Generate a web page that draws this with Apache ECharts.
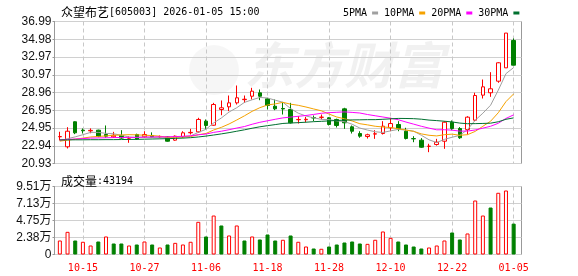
<!DOCTYPE html>
<html><head><meta charset="utf-8">
<script src="https://cdn.jsdelivr.net/npm/echarts@6/dist/echarts.min.js"></script>
<style>html,body{margin:0;padding:0;background:#fff}#c{width:578px;height:276px}</style>
</head><body><div id="c"></div>
<script>
const dates = ['10-10','10-13','10-14','10-15','10-16','10-17','10-20','10-21','10-22','10-23','10-24','10-27','10-28','10-29','10-30','10-31',
'11-03','11-04','11-05','11-06','11-07','11-10','11-11','11-12','11-13','11-14','11-17','11-18','11-19','11-20','11-21','11-24','11-25','11-26','11-27','11-28',
'12-01','12-02','12-03','12-04','12-05','12-08','12-09','12-10','12-11','12-12','12-15','12-16','12-17','12-18','12-19','12-22','12-23','12-24','12-25','12-26','12-29','12-30','12-31','01-05'];
// [open, close, low, high]
const candles = [
[23.95,23.98,23.53,24.52],[22.82,24.58,22.63,25.04],[25.65,24.40,24.25,25.70],[24.70,24.63,24.32,24.89],[24.62,24.68,24.35,24.90],
[24.70,23.98,23.90,24.75],[24.21,24.02,23.84,25.23],[23.95,24.13,23.84,24.51],[24.10,23.80,23.72,24.70],[23.70,23.72,23.27,24.02],
[24.21,23.70,23.60,24.30],[23.95,24.21,23.84,24.58],[24.10,23.95,23.84,24.45],[23.93,23.97,23.80,24.10],[23.95,23.45,23.40,24.00],
[23.57,24.02,23.50,24.10],[23.95,24.40,23.84,24.58],[24.40,24.45,24.21,24.85],[24.51,25.91,24.40,26.10],[25.72,25.23,24.85,25.91],
[25.26,27.60,25.20,27.79],[27.04,27.23,26.39,28.06],[27.34,27.79,26.85,28.62],[27.79,28.36,27.60,29.75],[28.15,28.20,27.79,28.62],
[28.54,29.11,28.17,29.49],[28.92,28.54,28.09,29.30],[28.24,27.49,27.04,28.36],[27.41,27.11,26.96,28.17],[27.15,27.10,26.47,27.86],
[27.04,25.53,25.45,27.79],[25.88,25.91,25.45,26.28],[25.88,25.93,25.60,26.20],[26.12,26.08,25.72,26.36],[26.15,26.17,25.91,26.47],
[26.10,25.34,25.23,26.17],[25.91,25.23,25.00,26.00],[27.11,25.53,24.85,27.23],[25.08,24.58,24.32,25.23],[24.32,24.02,23.84,24.58],
[23.98,24.18,23.75,24.30],[24.26,24.29,23.72,24.70],[24.32,25.15,24.21,25.72],[24.97,25.45,24.58,26.10],[25.34,24.89,24.58,25.72],
[24.58,23.76,23.65,24.97],[23.75,23.72,23.34,24.02],[23.57,22.77,22.70,23.80],[22.87,22.89,22.21,23.16],[23.08,23.34,22.95,23.72],
[23.45,25.60,22.59,25.72],[25.60,24.89,24.70,25.80],[24.89,23.84,23.72,25.05],[24.78,26.17,24.21,26.28],[25.83,28.62,25.72,28.93],
[28.66,29.60,28.28,30.43],[28.93,29.38,28.47,31.26],[30.24,32.32,30.06,32.39],[31.75,35.68,31.75,35.68],[34.84,32.05,32.05,35.07]];
const ma5 = [23.50,23.74,23.94,24.19,24.45,24.45,24.34,24.29,24.12,23.93,23.88,23.92,23.88,23.91,23.86,23.92,23.95,24.05,24.45,24.80,
25.52,26.08,26.75,27.24,27.84,28.14,28.40,28.34,28.09,27.86,27.14,26.62,26.30,26.10,25.92,25.89,25.75,25.67,25.37,24.94,
24.71,24.52,24.44,24.62,24.79,24.71,24.59,24.12,23.61,23.30,23.66,23.90,24.11,24.77,25.82,26.62,27.52,29.22,31.09,31.78];
const ma10 = [23.46,23.58,23.68,23.80,23.93,23.99,24.05,24.12,24.16,24.19,24.17,24.13,24.09,24.02,23.90,23.90,23.94,23.97,24.18,24.33,
24.72,25.02,25.40,25.85,26.32,26.83,27.24,27.55,27.67,27.85,27.64,27.51,27.32,27.10,26.89,26.52,26.19,25.99,25.74,25.43,
25.30,25.14,25.06,25.00,24.87,24.71,24.56,24.28,24.12,24.05,24.19,24.25,24.12,24.19,24.56,25.14,25.71,26.67,27.93,28.80];
const ma20 = [23.60,23.65,23.70,23.75,23.80,23.82,23.84,23.86,23.87,23.88,23.89,23.91,23.93,23.95,23.95,23.97,24.01,24.06,24.18,24.26,
24.45,24.58,24.75,24.94,25.11,25.37,25.59,25.76,25.93,26.09,26.18,26.27,26.36,26.48,26.61,26.68,26.72,26.77,26.71,26.64,
26.47,26.33,26.19,26.05,25.88,25.62,25.38,25.14,24.93,24.74,24.75,24.70,24.59,24.60,24.72,24.93,25.14,25.48,26.03,26.43];
const ma30 = [23.60,23.60,23.61,23.61,23.62,23.62,23.63,23.63,23.64,23.65,23.66,23.68,23.70,23.72,23.74,23.77,23.80,23.85,23.93,24.03,
24.15,24.28,24.42,24.58,24.74,24.92,25.08,25.21,25.33,25.46,25.51,25.55,25.60,25.66,25.70,25.75,25.79,25.84,25.86,25.87,
25.89,25.89,25.93,25.98,26.03,26.02,26.00,25.94,25.84,25.78,25.71,25.63,25.50,25.43,25.44,25.46,25.49,25.65,25.93,26.09];
const volumes = [19600,31700,19600,17800,12600,18200,25200,15400,15400,12600,14000,18200,14000,9800,14000,16300,14000,17800,45700,25200,
54500,40600,26600,40600,19600,25200,21000,28000,19600,20600,26600,17800,11200,8400,8000,11200,14000,16800,18200,15400,
14900,20600,32200,23300,18200,14000,11200,8400,9800,12600,19600,30800,21000,29400,75500,54500,65700,86300,89500,43194];
const volDir = 'RRGRRGRGGRGRGRGRRRRGRGRRGRGGGRGRRGRGGGGGRRRRGGGGRRRGGRRRGRRG';
const priceTicks = [20.93,22.94,24.95,26.95,28.96,30.97,32.97,34.98,36.99];
const volTickValues = [0,23775,47550,71325,95100];
const volTickLabels = ['0','2.38万','4.75万','7.13万','9.51万'];
const maNames = ['5PMA','10PMA','20PMA','30PMA'];
const maColors = ['#a0a0a0','#f5a200','#ff00ff','#00702f'];
const maData = [ma5, ma10, ma20, ma30];
const stockTitle = '众望布艺';
const stockInfo = '[605003] 2026-01-05 15:00';
const lastVolume = '43194';

function nearest(arr, v) { let b = 0; for (let i = 1; i < arr.length; i++) if (Math.abs(arr[i]-v) < Math.abs(arr[b]-v)) b = i; return b; }
const labelInterval = (idx) => (idx - 3) % 8 === 0;
const labelFont = '"Liberation Sans", Arial, "Noto Sans CJK SC"';

const chart = echarts.init(document.getElementById('c'), null, {renderer: 'canvas'});
const volData = volumes.map((v, i) => ({
  value: v,
  itemStyle: volDir[i] === 'R' ? {color: '#fff', borderColor: '#f00', borderWidth: 1} : {color: '#008000', borderColor: '#008000', borderWidth: 1}
}));
const G = {top: 21.5, height: 142, vtop: 186.5, vheight: 68};
const catX = (gi, withLabel) => ({
  gridIndex: gi, type: 'category', data: dates, boundaryGap: true,
  axisLine: {show: false}, axisTick: {show: false},
  axisLabel: withLabel ? {show: true, interval: labelInterval, color: '#f00', fontFamily: '"DejaVu Sans Mono", monospace', fontSize: 10, margin: 9} : {show: false},
  splitLine: {show: true, interval: labelInterval, alignWithLabel: true, lineStyle: {color: '#c8c8c8', type: [4, 3], width: 1}}
});
const richTitle = {
  a: {fontFamily: '"Noto Sans CJK SC"', fontSize: 12, color: '#000', fontWeight: 'normal'},
  b: {fontFamily: '"DejaVu Sans Mono", monospace', fontSize: 10, color: '#000', fontWeight: 'normal'}
};
const option = {
  animation: false,
  backgroundColor: '#fff',
  title: [
    {left: 56, top: 1, text: '{a|' + stockTitle + '}{b|' + stockInfo + '}', textStyle: {fontWeight: 'normal', rich: richTitle}},
    {left: 56, top: 170, text: '{a|成交量}{b|:' + lastVolume + '}', textStyle: {fontWeight: 'normal', rich: richTitle}}
  ],
  legend: {
    left: 338, top: 3, align: 'right', itemGap: 6, itemWidth: 6, itemHeight: 3, icon: 'rect',
    data: maNames, selectedMode: false,
    textStyle: {fontFamily: '"DejaVu Sans Mono", monospace', fontSize: 10, color: '#000', padding: [0, 0, 0, 0]}
  },
  graphic: [
    {type: 'circle', silent: true, z: 0, shape: {cx: 214, cy: 70, r: 25}, style: {fill: 'rgba(0,0,0,0.035)'}},
    {type: 'text', left: 244, top: 40, silent: true, z: 0,
      style: {text: '东方财富', font: 'italic bold 50px "Noto Sans CJK SC"', fill: 'rgba(0,0,0,0.055)'}}
  ],
  grid: [
    {left: 54.5, top: G.top, width: 467, height: G.height, show: true, borderColor: '#999', borderWidth: 1},
    {left: 56, top: G.top, width: 461.5, height: G.height},
    {left: 54.5, top: G.vtop, width: 467, height: G.vheight, show: true, borderColor: '#999', borderWidth: 1},
    {left: 56, top: G.vtop, width: 461.5, height: G.vheight}
  ],
  xAxis: [
    {gridIndex: 0, type: 'value', show: false, min: 0, max: 1},
    catX(1, false),
    {gridIndex: 2, type: 'value', show: false, min: 0, max: 1},
    catX(3, true)
  ],
  yAxis: [
    {gridIndex: 0, type: 'value', min: priceTicks[0], max: priceTicks[priceTicks.length-1], interval: (priceTicks[8]-priceTicks[0])/8,
      axisLine: {show: true, lineStyle: {color: '#999'}}, axisTick: {show: true, length: 2, lineStyle: {color: '#999'}},
      axisLabel: {color: '#111', fontSize: 12, fontFamily: labelFont, margin: 3, formatter: v => priceTicks[nearest(priceTicks, v)].toFixed(2)},
      splitLine: {show: true, lineStyle: {color: '#d0d0d0', width: 1}}},
    {gridIndex: 1, type: 'value', min: priceTicks[0], max: priceTicks[priceTicks.length-1], show: false, splitLine: {show: false}},
    {gridIndex: 2, type: 'value', min: 0, max: volTickValues[4], interval: volTickValues[1],
      axisLine: {show: true, lineStyle: {color: '#999'}}, axisTick: {show: true, length: 2, lineStyle: {color: '#999'}},
      axisLabel: {color: '#111', fontSize: 12, fontFamily: labelFont, margin: 3, formatter: v => volTickLabels[nearest(volTickValues, v)]},
      splitLine: {show: true, lineStyle: {color: '#d0d0d0', width: 1}}},
    {gridIndex: 3, type: 'value', min: 0, max: volTickValues[4], show: false, splitLine: {show: false}}
  ],
  series: [
    {type: 'candlestick', name: 'K', xAxisIndex: 1, yAxisIndex: 1, data: candles, barWidth: 4, z: 3,
      itemStyle: {color: '#fff', color0: '#008000', borderColor: '#f00', borderColor0: '#008000', borderWidth: 1}},
    ...maNames.map((n, k) => ({type: 'line', name: n, xAxisIndex: 1, yAxisIndex: 1, data: maData[k], symbol: 'none', color: maColors[k],
      lineStyle: {width: 1, color: maColors[k]}, z: 4, silent: true})),
    {type: 'bar', name: 'VOL', xAxisIndex: 3, yAxisIndex: 3, data: volData, barWidth: 4}
  ]
};
chart.setOption(option);
</script></body></html>
